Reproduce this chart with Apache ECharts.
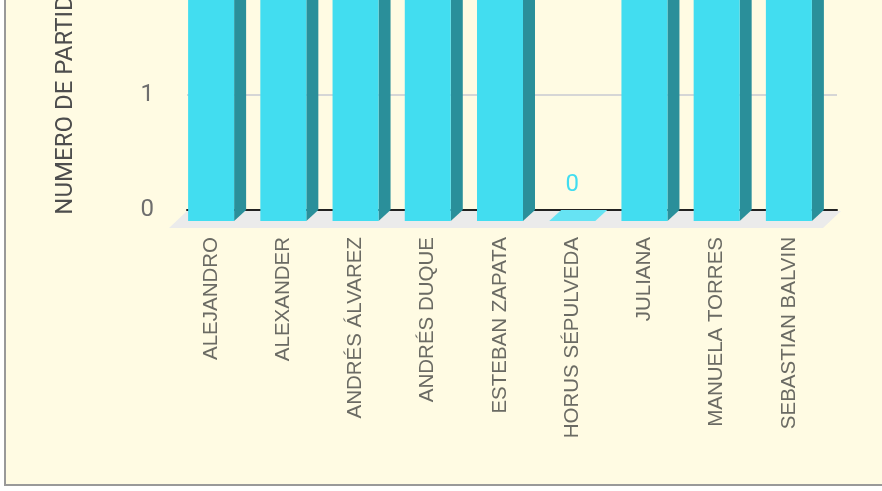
<!DOCTYPE html>
<html><head><meta charset="utf-8">
<script src="https://cdn.jsdelivr.net/npm/echarts@6/dist/echarts.min.js"></script>
<style>
html,body{margin:0;padding:0;background:#fff;overflow:hidden;width:882px;height:491px;}
#frame{position:absolute;left:4px;top:-5px;width:900px;height:489px;background:#FFFBE3;border-left:2px solid #999;border-bottom:2px solid #999;}
#chart{position:absolute;left:0;top:-300px;width:882px;height:791px;}
</style></head><body>
<div id="frame"></div><div id="chart"></div>
<script>
const categories = ['ALEJANDRO','ALEXANDER','ANDRÉS ÁLVAREZ','ANDRÉS DUQUE','ESTEBAN ZAPATA','HORUS SÉPULVEDA','JULIANA','MANUELA TORRES','SEBASTIAN BALVIN'];
const partidos = [2, 2, 2, 2, 2, 0, 2, 2, 2];
const yAxisName = 'NUMERO DE PARTIDOS';
const yMin = 0, yMax = 2, yStep = 1;

const DX = 12, DY = 11;

function renderBar(params, api) {
  const i = api.value(0), v = api.value(1);
  const top = api.coord([i, v]);
  const base = api.coord([i, 0]);
  const band = api.size([1, 0])[0];
  const w = band * 0.637;
  const fx1 = top[0] - DX - w / 2, fx2 = top[0] - DX + w / 2;
  const ft = top[1] + DY, fb = base[1] + DY;
  const children = [];
  if (v > 0) {
    children.push({type: 'polygon', shape: {points: [[fx2, ft], [fx2 + DX, top[1]], [fx2 + DX, base[1]], [fx2, fb]]}, style: {fill: '#2A8F9A'}});
    children.push({type: 'rect', shape: {x: fx1, y: ft, width: w, height: fb - ft}, style: {fill: '#42DDF0'}});
  }
  children.push({type: 'polygon', shape: {points: [[fx1, ft], [fx1 + DX, top[1]], [fx2 + DX, top[1]], [fx2, ft]]}, style: {fill: '#66E3F3'}});
  children.push({type: 'text', style: {text: String(v), x: top[0] - DX, y: top[1] - 25, align: 'center', verticalAlign: 'middle', fill: '#42DDF0', fontSize: 24, fontFamily: 'Roboto'}});
  return {type: 'group', children: children};
}

function renderFloor(params, api) {
  const cs = params.coordSys;
  const x0 = cs.x, x1 = cs.x + cs.width + 4, yb = cs.y + cs.height;
  return {type: 'polygon', shape: {points: [[x0, yb + 1], [x1, yb + 1], [x1 - 18, yb + 18], [x0 - 18, yb + 18]]}, style: {fill: '#EBEBEB'}};
}

const chart = echarts.init(document.getElementById('chart'), null, {renderer: 'canvas'});
chart.setOption({
  backgroundColor: 'transparent',
  animation: false,
  grid: [
    {left: 187, right: 45, top: 280, bottom: 281},
    {left: 175, right: 57, top: 0, bottom: 270}
  ],
  xAxis: [
    {type: 'category', gridIndex: 0, data: categories, z: 1.5,
     axisLine: {lineStyle: {color: '#222', width: 2}}, axisTick: {show: false}, axisLabel: {show: false}},
    {type: 'category', gridIndex: 1, data: categories,
     axisLine: {show: false}, axisTick: {show: false},
     axisLabel: {rotate: 90, margin: 16, interval: 0, color: '#6b6b64', fontSize: 20.5, fontFamily: 'Liberation Sans'}}
  ],
  yAxis: [
    {type: 'value', gridIndex: 0, min: yMin, max: yMax, interval: yStep,
     name: yAxisName, nameLocation: 'middle', nameRotate: 90, nameGap: 109,
     nameTextStyle: {color: '#4d4d4d', fontSize: 24, fontFamily: 'Roboto', padding: [0, 0, 0, 11]},
     axisLine: {show: false}, axisTick: {show: false},
     axisLabel: {margin: 33, color: '#6e6e6e', fontSize: 24, fontFamily: 'Roboto', padding: [4, 0, 0, 0]},
     splitLine: {lineStyle: {color: '#D6D6D6', width: 2}}},
    {type: 'value', gridIndex: 1, show: false}
  ],
  series: [
    {type: 'custom', xAxisIndex: 0, yAxisIndex: 0, z: 1, renderItem: renderFloor, data: [[0, 0]], silent: true},
    {type: 'custom', xAxisIndex: 0, yAxisIndex: 0, z: 2, renderItem: renderBar,
     data: partidos.map((v, i) => [i, v])}
  ]
});
</script>
</body></html>
